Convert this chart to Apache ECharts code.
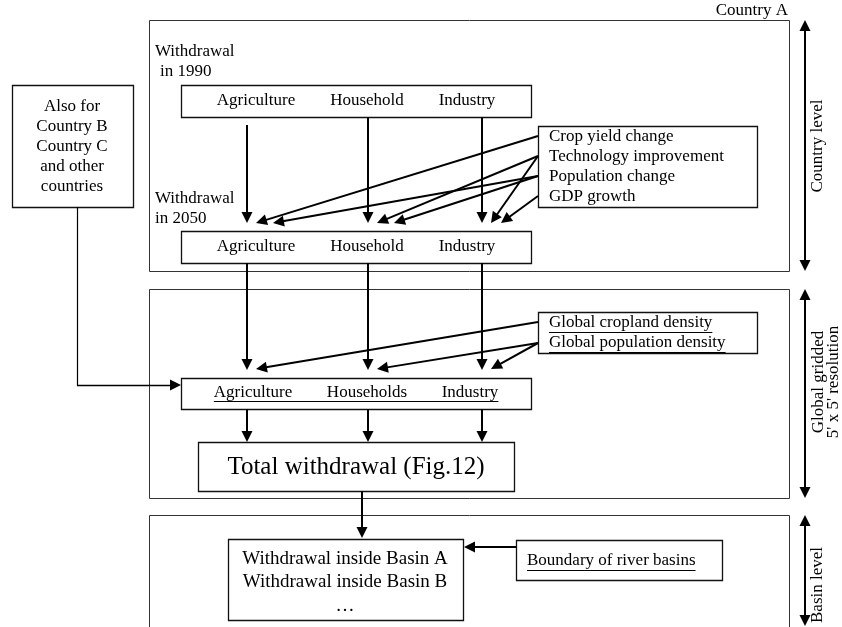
<!DOCTYPE html>
<html>
<head>
<meta charset="utf-8">
<script src="https://cdn.jsdelivr.net/npm/echarts@6/dist/echarts.min.js"></script>
<style>
  html, body { margin: 0; padding: 0; background: #fff; }
  #chart { width: 842px; height: 627px; }
</style>
</head>
<body>
<div id="chart"></div>
<script>
// labels of the flow diagram
const sectors1990 = ['Agriculture', 'Household', 'Industry'];
const sectors2050 = ['Agriculture', 'Household', 'Industry'];
const sectorsGrid = ['Agriculture', 'Households', 'Industry'];
const drivers = ['Crop yield change', 'Technology improvement', 'Population change', 'GDP growth'];
const driverLinks = [[0, 0], [1, 1], [1, 2], [2, 0], [2, 1], [3, 2]]; // [driver, sector]
const densities = ['Global cropland density', 'Global population density'];
const densityLinks = [[0, 0], [1, 1], [1, 2]]; // [density, sector]
const otherCountries = ['Also for', 'Country B', 'Country C', 'and other', 'countries'];
const basinRows = ['Withdrawal inside Basin A', 'Withdrawal inside Basin B', '…'];
const levelLabels = ['Country level', 'Global gridded', "5' x 5' resolution", 'Basin level'];

// layout (diagram units = pixels)
const panels = [[149, 20, 789, 271], [149, 289, 789, 498], [149, 515, 789, 640]];
const boxes = {
  y1990: [181, 85, 531, 117],
  y2050: [181, 231, 531, 263],
  grid: [181, 378, 531, 409],
  total: [198, 442, 514, 491],
  basin: [228, 539, 463, 620],
  boundary: [516, 540, 722, 580],
  drivers: [538, 126, 757, 207],
  density: [538, 312, 757, 353],
  other: [12, 85, 133, 207]
};
const colX = [247, 368, 482];
const labelX = [256, 367, 467];
const labelXg = [253, 367, 470];

const FONT = '"Liberation Serif", "Times New Roman", serif';
const HEAD = 11;

const chart = echarts.init(document.getElementById('chart'));

function measure(text, size) {
  const ctx = document.createElement('canvas').getContext('2d');
  ctx.font = size + 'px ' + FONT;
  return ctx.measureText(text).width;
}

// pull the end point back by half the arrow head, the head is centred on it
function shorten(a, b) {
  const dx = b[0] - a[0], dy = b[1] - a[1];
  const len = Math.hypot(dx, dy);
  return [b[0] - dx / len * HEAD / 2, b[1] - dy / len * HEAD / 2];
}

// texts
const texts = [];
function addText(text, x, y, size, align, rotate) {
  texts.push({text: text, x: x, y: y, size: size || 17, align: align || 'center', rotate: rotate || 0});
}
addText('Country A', 788, 11, 17, 'right');
addText('Withdrawal', 155, 52, 17, 'left');
addText('in 1990', 160, 72, 17, 'left');
addText('Withdrawal', 155, 199, 17, 'left');
addText('in 2050', 155, 219, 17, 'left');
sectors1990.forEach((s, i) => addText(s, labelX[i], 101));
sectors2050.forEach((s, i) => addText(s, labelX[i], 247));
sectorsGrid.forEach((s, i) => addText(s, labelXg[i], 393));
drivers.forEach((s, i) => addText(s, 549, 137 + 20 * i, 17, 'left'));
densities.forEach((s, i) => addText(s, 549, 323 + 20 * i, 17, 'left'));
addText('Total withdrawal (Fig.12)', 356, 467, 25);
basinRows.forEach((s, i) => addText(s, 345, 559 + 23.5 * i, 19));
addText('Boundary of river basins', 527, 561, 17, 'left');
otherCountries.forEach((s, i) => addText(s, 72, 107 + 20 * i));
addText(levelLabels[0], 818, 146, 17, 'center', Math.PI / 2);
addText(levelLabels[1], 819, 382, 17, 'center', Math.PI / 2);
addText(levelLabels[2], 834, 382, 17, 'center', Math.PI / 2);
addText(levelLabels[3], 818, 585, 17, 'center', Math.PI / 2);

// underlines
const underlines = [];
const wFirst = measure(sectorsGrid[0], 17), wLast = measure(sectorsGrid[2], 17);
underlines.push([[labelXg[0] - wFirst / 2, 401], [labelXg[2] + wLast / 2, 401]]);
densities.forEach((s, i) => underlines.push([[549, 332 + 20 * i], [549 + measure(s, 17), 332 + 20 * i]]));
underlines.push([[527, 570], [527 + measure('Boundary of river basins', 17), 570]]);

// arrows
const arrows = [];
function addArrow(a, b) { arrows.push([a, shorten(a, b)]); }
const startY1990 = [125, 117, 117];
colX.forEach((x, i) => addArrow([x, startY1990[i]], [x, 223]));
const used = [0, 0, 0];
driverLinks.forEach(([d, s]) => {
  const tipX = colX[s] + 9 + used[s] * (s === 2 ? 10 : 17);
  used[s]++;
  addArrow([538, 136 + 20 * d], [tipX, 223]);
});
colX.forEach(x => addArrow([x, 263], [x, 370]));
const usedG = [0, 0, 0];
densityLinks.forEach(([d, s]) => {
  const tipX = colX[s] + 9 + usedG[s] * 17;
  usedG[s]++;
  addArrow([538, 322 + 21 * d], [tipX, 369]);
});
colX.forEach(x => addArrow([x, 409], [x, 442]));
addArrow([362, 491], [362, 538]);
addArrow([516, 547], [464, 547]);

// link from the other-countries box (thin)
const elbow = [[[77, 207], [77, 385.5]]];
const elbowArrow = [[[77, 385], shorten([77, 385], [181, 385])]];

const levelSpans = [[20, 271], [289, 498], [515, 626]];
const doubleArrows = levelSpans.map(([a, b]) => [shorten([805, b], [805, a]), shorten([805, a], [805, b])]);

const rectItems = [];
panels.forEach(p => rectItems.push({value: p, kind: 'panel'}));
Object.keys(boxes).forEach(k => rectItems.push({value: boxes[k], kind: 'box'}));

chart.setOption({
  animation: false,
  backgroundColor: '#fff',
  grid: {left: 0, right: 0, top: 0, bottom: 0},
  xAxis: {type: 'value', min: 0, max: 842, show: false},
  yAxis: {type: 'value', min: 0, max: 627, inverse: true, show: false},
  series: [
    {
      type: 'custom',
      z: 1,
      data: rectItems.map(r => r.value),
      renderItem: function (params, api) {
        const p0 = api.coord([api.value(0), api.value(1)]);
        const p1 = api.coord([api.value(2), api.value(3)]);
        const panel = rectItems[params.dataIndex].kind === 'panel';
        return {
          type: 'rect',
          shape: {x: p0[0] + 0.5, y: p0[1] + 0.5, width: p1[0] - p0[0], height: p1[1] - p0[1]},
          style: {fill: '#fff', stroke: panel ? '#333' : '#111', lineWidth: panel ? 1 : 1.3}
        };
      }
    },
    {
      type: 'lines',
      coordinateSystem: 'cartesian2d',
      z: 3,
      symbol: ['none', 'triangle'],
      symbolSize: HEAD,
      lineStyle: {color: '#000', width: 2, opacity: 1},
      data: arrows.map(c => ({coords: c}))
    },
    {
      type: 'lines',
      coordinateSystem: 'cartesian2d',
      z: 3,
      symbol: 'none',
      lineStyle: {color: '#000', width: 1.2, opacity: 1},
      data: elbow.map(c => ({coords: c}))
    },
    {
      type: 'lines',
      coordinateSystem: 'cartesian2d',
      z: 3,
      symbol: ['none', 'triangle'],
      symbolSize: HEAD,
      lineStyle: {color: '#000', width: 1.4, opacity: 1},
      data: elbowArrow.map(c => ({coords: c}))
    },
    {
      type: 'lines',
      coordinateSystem: 'cartesian2d',
      z: 3,
      symbol: ['triangle', 'triangle'],
      symbolSize: HEAD,
      lineStyle: {color: '#000', width: 2, opacity: 1},
      data: doubleArrows.map(c => ({coords: c}))
    },
    {
      type: 'lines',
      coordinateSystem: 'cartesian2d',
      z: 4,
      symbol: 'none',
      lineStyle: {color: '#000', width: 1, opacity: 1},
      data: underlines.map(c => ({coords: c}))
    },
    {
      type: 'custom',
      z: 5,
      data: texts.map(t => [t.x, t.y]),
      renderItem: function (params, api) {
        const t = texts[params.dataIndex];
        const p = api.coord([t.x, t.y]);
        return {
          type: 'text',
          x: p[0],
          y: p[1],
          rotation: t.rotate,
          style: {
            text: t.text,
            fill: '#000',
            fontSize: t.size,
            fontFamily: FONT,
            align: t.align,
            verticalAlign: 'middle'
          }
        };
      }
    }
  ]
});
</script>
</body>
</html>
